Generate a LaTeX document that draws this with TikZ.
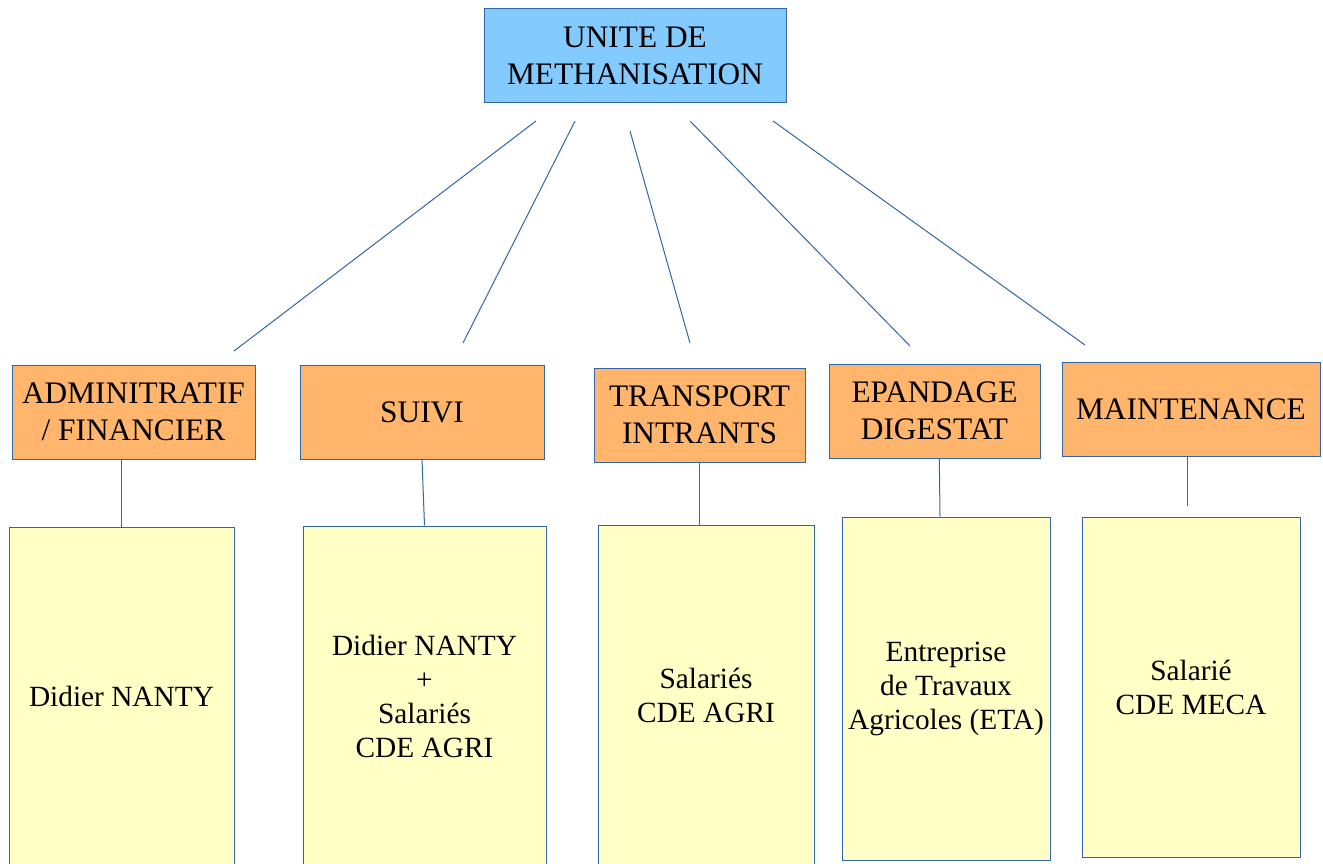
\documentclass[tikz,border=0pt]{standalone}
\usepackage{fontspec}
\setmainfont{Liberation Serif}
\usepackage{xcolor}
\usetikzlibrary{positioning,calc}
\definecolor{lobord}{HTML}{3465A4}
\definecolor{lotop}{HTML}{83CAFF}
\definecolor{loorange}{HTML}{FFB66C}
\definecolor{loyellow}{HTML}{FFFFC6}

\begin{document}
\begin{tikzpicture}[x=0.75pt,y=-0.75pt,
every node/.style = {align=center, text centered, draw=lobord,
    line width=0.75pt, inner sep=0pt},
headbox/.style={fill=lotop, font=\fontsize{23.5}{28}\selectfont},
unitbox/.style={fill=loorange, minimum height=70.5pt,
    font=\fontsize{23.5}{28}\selectfont},
staffbox/.style={fill=loyellow, font=\fontsize{22}{25.5}\selectfont},
link/.style={draw=lobord, line width=0.75pt}]
\useasboundingbox (0,0) rectangle (1323,863);

\node[headbox, minimum width=226.5pt, minimum height=70.5pt] (unite) at (635,56)
  {UNITE DE\\METHANISATION};

% services
\node[unitbox, minimum width=182.25pt] (adm)   at (133.5,412) {ADMINITRATIF\\/ FINANCIER};
\node[unitbox, minimum width=183pt]    (suivi) at (422,412)   {SUIVI};
\node[unitbox, minimum width=158.25pt] (trans) at (699.5,415) {TRANSPORT\\INTRANTS};
\node[unitbox, minimum width=158.25pt] (epan)  at (934.5,411) {EPANDAGE\\DIGESTAT};
\node[unitbox, minimum width=193.5pt]  (maint) at (1191,409)  {MAINTENANCE};

% personnes
\node[staffbox, minimum width=168.75pt, minimum height=254.25pt] (adm-staff)   at (121.5,696.5) {Didier NANTY};
\node[staffbox, minimum width=182.25pt, minimum height=255pt]    (suivi-staff) at (424.5,696)   {Didier NANTY\\+\\Salariés\\CDE AGRI};
\node[staffbox, minimum width=162pt,    minimum height=255.75pt] (trans-staff) at (706,695.5)   {Salariés\\CDE AGRI};
\node[staffbox, minimum width=156pt,    minimum height=257.25pt] (epan-staff)  at (946,688.5)   {Entreprise\\de Travaux\\Agricoles (ETA)};
\node[staffbox, minimum width=163.5pt,  minimum height=255pt]    (maint-staff) at (1191,687)    {Salarié\\CDE MECA};

% liens depuis l'unite
\coordinate (u1) at (536,121); \coordinate (s1) at (234,351);
\coordinate (u2) at (575,121); \coordinate (s2) at (463,343);
\coordinate (u3) at (630,131); \coordinate (s3) at (690,343);
\coordinate (u4) at (690,121); \coordinate (s4) at (910,346);
\coordinate (u5) at (773,121); \coordinate (s5) at (1085,345);
\foreach \i in {1,...,5}
  \draw[link] (u\i) -- (s\i);

% liens vers les personnes
\draw[link] (adm-staff.north |- adm.south) -- (adm-staff.north);
\draw[link] (suivi.south) -- (suivi-staff.north);
\draw[link] (trans.south) -- (trans.south |- trans-staff.north);
\draw[link] ([xshift=3.6pt]epan.south) -- ([xshift=-4.5pt]epan-staff.north);
\draw[link, shorten >=8.25pt] ([xshift=-3pt]maint.south) -- ([xshift=-3pt]maint-staff.north);
\end{tikzpicture}
\end{document}
